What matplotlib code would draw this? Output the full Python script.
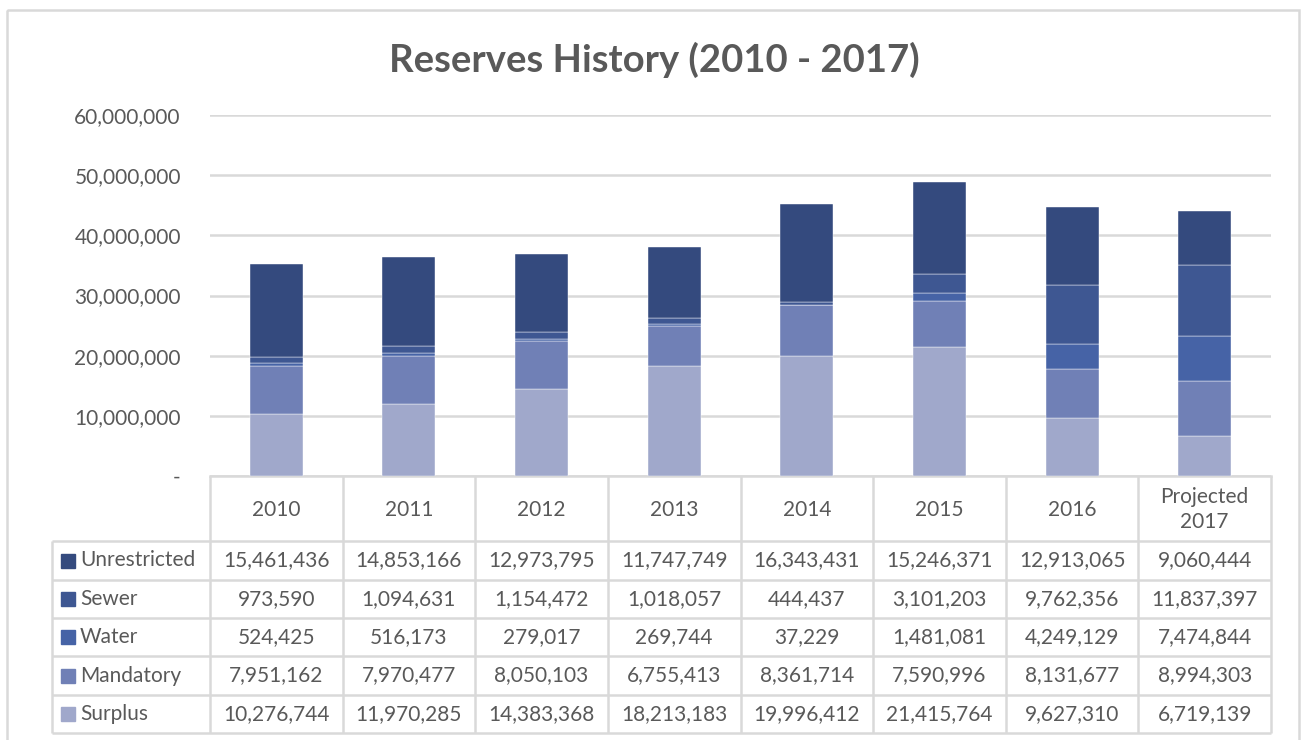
import matplotlib
matplotlib.use("Agg")
import matplotlib.pyplot as plt
from matplotlib.patches import Rectangle
from matplotlib.ticker import FuncFormatter

plt.rcParams["font.family"] = ["Lato", "DejaVu Sans"]

# reserve balances by fund, 2010 through projected 2017
years = ["2010", "2011", "2012", "2013", "2014", "2015", "2016", "Projected\n2017"]
surplus = [10276744, 11970285, 14383368, 18213183, 19996412, 21415764, 9627310, 6719139]
mandatory = [7951162, 7970477, 8050103, 6755413, 8361714, 7590996, 8131677, 8994303]
water = [524425, 516173, 279017, 269744, 37229, 1481081, 4249129, 7474844]
sewer = [973590, 1094631, 1154472, 1018057, 444437, 3101203, 9762356, 11837397]
unrestricted = [15461436, 14853166, 12973795, 11747749, 16343431, 15246371, 12913065, 9060444]

# stacked bottom-up; the table lists them top-down
series = [
    ("Surplus", surplus, "#A0A8CB"),
    ("Mandatory", mandatory, "#7080B6"),
    ("Water", water, "#4663A6"),
    ("Sewer", sewer, "#3E5792"),
    ("Unrestricted", unrestricted, "#344A7E"),
]

TXT = "#595959"
GRID = "#D9D9D9"
W, H = 1302, 740
FS = 15

fig = plt.figure(figsize=(W / 100, H / 100), dpi=100)

# plot area in pixel terms, converted to figure fractions
x0, x1, ytop, ybot = 210, 1271, 115, 476
ax = fig.add_axes([x0 / W, 1 - ybot / H, (x1 - x0) / W, (ybot - ytop) / H])

xs = list(range(len(years)))
bottom = [0] * len(years)
for name, vals, col in series:
    ax.bar(xs, vals, width=0.4, bottom=bottom, color=col, edgecolor="white",
           linewidth=0.3, zorder=3)
    bottom = [b + v for b, v in zip(bottom, vals)]

ax.set_xlim(-0.5, len(years) - 0.5)
ax.set_ylim(0, 60000000)
ax.set_yticks(range(0, 60000001, 10000000))
ax.yaxis.set_major_formatter(FuncFormatter(lambda v, p: "-" if v == 0 else f"{int(v):,}"))
ax.tick_params(axis="y", length=0, pad=21, labelsize=FS, labelcolor=TXT)
ax.set_xticks([])
ax.grid(axis="y", color=GRID, linewidth=1.8, zorder=0)
for s in ["top", "right", "left"]:
    ax.spines[s].set_visible(False)
ax.spines["bottom"].set_color(GRID)
ax.spines["bottom"].set_linewidth(1.8)

# overlay in pixel coordinates for the border, title and data table
ov = fig.add_axes([0, 0, 1, 1], zorder=-1)
ov.set_xlim(0, W)
ov.set_ylim(H, 0)
ov.axis("off")
ov.add_patch(Rectangle((7, 10), 1292, 740, fill=False, edgecolor=GRID, linewidth=1.8))
ov.text(W / 2 + 3, 60, "Reserves History (2010 - 2017)", ha="center", va="center",
        fontsize=27.5, fontweight="bold", color=TXT)

tab = fig.add_axes([0, 0, 1, 1], zorder=5)
tab.set_xlim(0, W)
tab.set_ylim(H, 0)
tab.axis("off")
tab.patch.set_alpha(0)

cw = (x1 - x0) / len(years)
row_y = [476, 541, 580, 618, 656, 695, 733]
lx = 52
lkw = dict(color=GRID, linewidth=1.8, solid_capstyle="butt")
for i in range(len(years) + 1):
    tab.plot([x0 + i * cw] * 2, [row_y[0], row_y[-1]], **lkw)
tab.plot([lx, lx], [row_y[1], row_y[-1]], **lkw)
for y in row_y[1:]:
    tab.plot([lx, x1], [y, y], **lkw)

for i, yr in enumerate(years):
    tab.text(x0 + (i + 0.5) * cw, (row_y[0] + row_y[1]) / 2 + 1, yr, ha="center",
             va="center", fontsize=FS, color=TXT, linespacing=1.3)

for r, (name, vals, col) in enumerate(reversed(series)):
    yc = (row_y[r + 1] + row_y[r + 2]) / 2
    tab.add_patch(Rectangle((lx + 9, yc - 7), 14, 14, color=col))
    tab.text(lx + 28, yc, name, ha="left", va="center", fontsize=FS, color=TXT)
    for i, v in enumerate(vals):
        tab.text(x0 + (i + 0.5) * cw, yc, f"{v:,}", ha="center", va="center",
                 fontsize=FS, color=TXT)

fig.savefig("out.png", dpi=100, facecolor="white")
